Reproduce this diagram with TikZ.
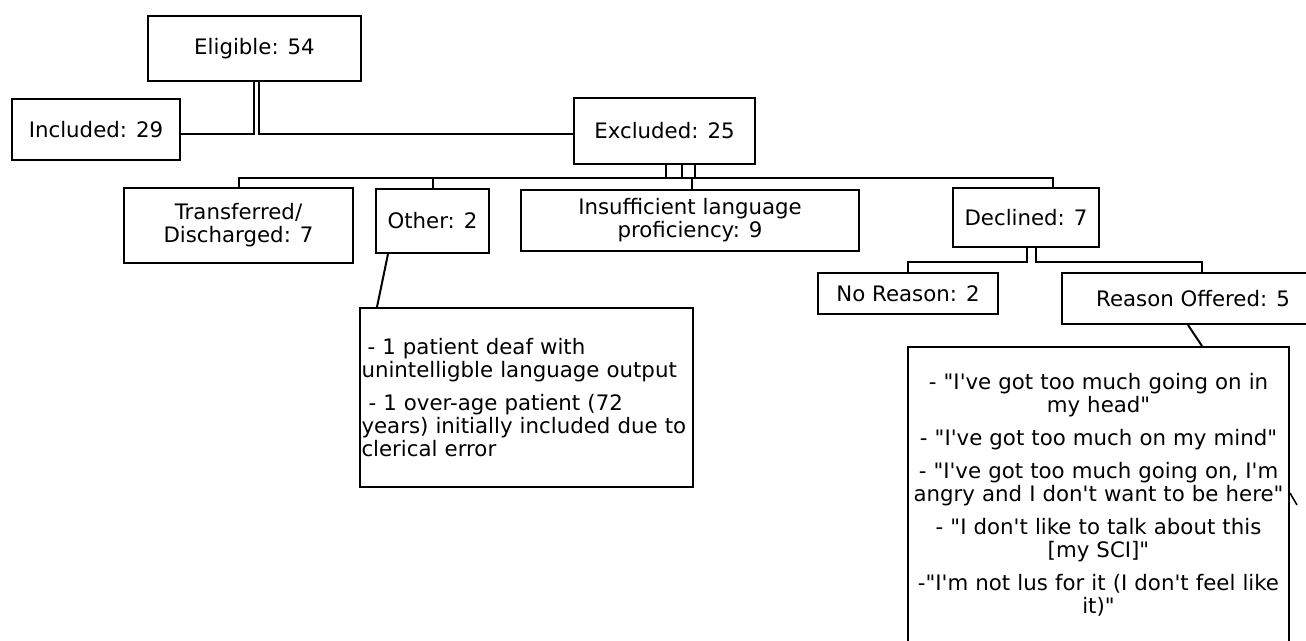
\documentclass[tikz,border=0pt]{standalone}
\usepackage{fontspec}
\newfontfamily\dv{DejaVu Sans}
\begin{document}
\begin{tikzpicture}[x=1pt,y=-1pt,
  box/.style={draw, line width=2pt, inner sep=0pt, align=center, anchor=north west,
    font=\dv\fontsize{21.3}{23}\selectfont},
  link/.style={line width=2pt}]
\useasboundingbox (0,0) rectangle (1306,640);
\clip (0,0) rectangle (1306,640);
\node[box, minimum width=213, minimum height=65] (elig) at (147,15) {Eligible: 54};
\node[box, minimum width=168, minimum height=61] (inc) at (11,98) {Included: 29};
\node[box, minimum width=181, minimum height=66] (exc) at (573,97) {Excluded: 25};
\node[box, minimum width=229, minimum height=75] (tr) at (123,187) {Transferred/\\Discharged: 7};
\node[box, minimum width=113, minimum height=64] (oth) at (375,188) {Other: 2};
\node[box, minimum width=338, minimum height=61] (ins) at (520,189) {Insufficient language\\proficiency: 9};
\node[box, minimum width=146, minimum height=59] (dec) at (952,187) {Declined: 7};
\node[box, minimum width=180, minimum height=41] (nr) at (817,272) {No Reason: 2};
\node[box, minimum width=262, minimum height=51] (ro) at (1061,272) {Reason Offered: 5};
\node[box, minimum width=333, minimum height=179, align=left, inner xsep=1.5pt, text width=330] (det) at (359,307)
  {\hspace*{6pt}- 1 patient deaf with\\
   unintelligble language output\\[10pt]
   \hspace*{7pt}- 1 over-age patient (72\\
   years) initially included due to\\
   clerical error};
\node[box, minimum width=381, minimum height=296, text width=378] (rsn) at (907,346)
  {- "I've got too much going on in\\my head"\\[10pt]
   - "I've got too much on my mind"\\[10pt]
   - "I've got too much going on, I'm\\angry and I don't want to be here"\\[10pt]
   - "I don't like to talk about this\\{}[my SCI]"\\[10pt]
   -"I'm not lus for it (I don't feel like\\it)"};
% connectors
\draw[link] ([xshift=-0.5pt]elig.south) |- ([yshift=-4pt]inc.east);
\draw[link] ([xshift=4.5pt]elig.south) |- ([yshift=-2.5pt]exc.west);
\draw[link] ([xshift=1.5pt]exc.south) -- ++(0,12.5) -| (tr.north);
\draw[link] ([xshift=17.5pt]exc.south) -- ++(0,12.5) -| (oth.north);
\draw[link] ([xshift=30.5pt]exc.south) -- ++(0,12.5) -| ([xshift=2pt]ins.north);
\draw[link] ([xshift=17.5pt]exc.south) -- ++(0,12.5) -| ([xshift=27pt]dec.north);
\draw[link] ([xshift=1pt]dec.south) -- ++(0,14) -| (nr.north);
\draw[link] ([xshift=10pt]dec.south) -- ++(0,14) -| ([xshift=9pt]ro.north);
\draw[link] ([xshift=13pt]oth.south west) -- ([xshift=18pt]det.north west);
\draw[link] ([xshift=127pt]ro.south west) -- ([xshift=295pt]rsn.north west);
\draw[line width=1.5pt] ([shift={(0,147)}]rsn.north east) -- ++(7,12);
\end{tikzpicture}
\end{document}
